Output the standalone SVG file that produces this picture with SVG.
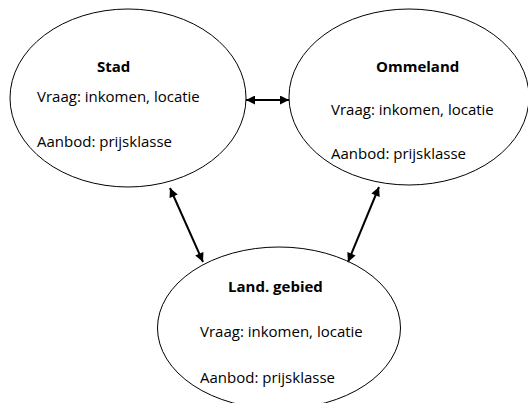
<svg xmlns="http://www.w3.org/2000/svg" width="528" height="403" viewBox="0 0 528 403">
<defs>
<style>
.node ellipse{fill:#fff;stroke:#000;stroke-width:1}
text{font-family:"Open Sans","Noto Sans","Liberation Sans",sans-serif;font-size:15px;fill:#000}
.t{font-weight:bold}
.c line{stroke:#000;stroke-width:2}
</style>
<marker id="ah" viewBox="0 0 10 10" refX="10" refY="5" markerWidth="10" markerHeight="9" markerUnits="userSpaceOnUse" orient="auto-start-reverse">
<path d="M0,0 L10,5 L0,10 z" fill="#000"/>
</marker>
</defs>
<rect width="528" height="403" fill="#fff"/>
<g id="stad" class="node">
<ellipse cx="128" cy="98" rx="118" ry="89"/>
<text x="97" y="72" class="t">Stad</text>
<text x="37" y="102">Vraag: inkomen, locatie</text>
<text x="37" y="147">Aanbod: prijsklasse</text>
</g>
<g id="ommeland" class="node">
<ellipse cx="409" cy="97" rx="120" ry="88"/>
<text x="376" y="72" class="t">Ommeland</text>
<text x="331" y="115">Vraag: inkomen, locatie</text>
<text x="331" y="159">Aanbod: prijsklasse</text>
</g>
<g id="land" class="node">
<ellipse cx="279" cy="328" rx="121.5" ry="81"/>
<text x="228" y="292" class="t">Land. gebied</text>
<text x="200" y="337">Vraag: inkomen, locatie</text>
<text x="200" y="383">Aanbod: prijsklasse</text>
</g>
<g id="connectors" class="c">
<line x1="246" y1="100" x2="289" y2="100" marker-start="url(#ah)" marker-end="url(#ah)"/>
<line x1="170" y1="188" x2="203" y2="262" marker-start="url(#ah)" marker-end="url(#ah)"/>
<line x1="379" y1="187" x2="348" y2="262" marker-start="url(#ah)" marker-end="url(#ah)"/>
</g>
</svg>
